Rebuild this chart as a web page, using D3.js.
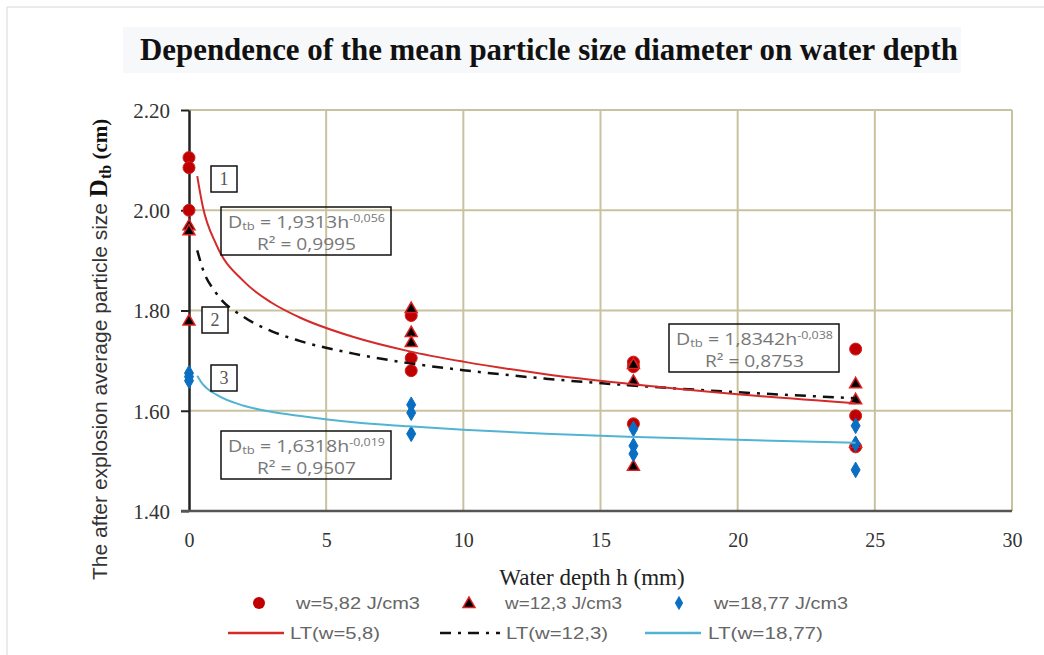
<html>
<script src="https://d3js.org/d3.v7.min.js"></script>
<style>
body {margin:0; background:#fff;}
</style>
<body>
<svg width=1044 height=655></svg>
<script>
// water depth ticks and size ticks
var xTicks = [0,5,10,15,20,25,30];
var yTicks = [1.40,1.60,1.80,2.00,2.20];

// measured points (three shots per depth)
var depthH = [0,0,0, 8.1,8.1,8.1, 16.2,16.2,16.2, 24.3,24.3,24.3];
var sizeW582 = [2.105,2.085,2.00, 1.79,1.705,1.68, 1.697,1.688,1.574, 1.723,1.59,1.528];
var sizeW123 = [1.97,1.96,1.78, 1.805,1.757,1.737, 1.693,1.66,1.49, 1.655,1.623,1.536];
var sizeW1877 = [1.675,1.668,1.66, 1.612,1.596,1.554, 1.564,1.53,1.514, 1.57,1.534,1.482];

// power trend lines
var trendH = [0.3,0.5,1,2,3,4,6,8,10,13,16,20,24.3];
var trendW582 = [2.068,2.008,1.931,1.858,1.816,1.787,1.747,1.719,1.698,1.673,1.654,1.633,1.615];
var trendW123 = [1.920,1.883,1.834,1.787,1.759,1.740,1.714,1.695,1.681,1.664,1.651,1.637,1.625];
var trendW1877 = [1.670,1.653,1.632,1.610,1.598,1.590,1.577,1.569,1.562,1.554,1.548,1.542,1.536];

var svg = d3.select("svg");
var xs = d3.scaleLinear().domain([0,30]).range([189,1012]);
var ys = d3.scaleLinear().domain([1.4,2.2]).range([511,110]);

// outer frame lines
svg.append("line").attr("x1",7).attr("x2",1044).attr("y1",7).attr("y2",7).style("stroke","#d8d8d8");
svg.append("line").attr("x1",7).attr("x2",7).attr("y1",7).attr("y2",655).style("stroke","#d8d8d8");

// title
svg.append("rect").attr("x",123).attr("y",27).attr("width",838).attr("height",46).style("fill","#f7f8f9");
svg.append("text").attr("x",140).attr("y",60)
   .attr("textLength",818).attr("lengthAdjust","spacingAndGlyphs")
   .style("font-family","Liberation Serif").style("font-weight","bold").style("font-size","32px").style("fill","#111")
   .text("Dependence of the mean particle  size diameter on water depth");

// grid
var grid = svg.append("g");
grid.selectAll(".gy").data(yTicks.slice(1)).enter().append("line")
   .attr("x1",xs(0)).attr("x2",xs(30)).attr("y1",function(d){return ys(d);}).attr("y2",function(d){return ys(d);})
   .style("stroke","#c9c29f").style("stroke-width",2);
grid.selectAll(".gx").data(xTicks.slice(1)).enter().append("line")
   .attr("x1",function(d){return xs(d);}).attr("x2",function(d){return xs(d);}).attr("y1",ys(1.4)).attr("y2",ys(2.2))
   .style("stroke","#c9c29f").style("stroke-width",2);

// axes
var yAxis = svg.append("g").attr("transform","translate("+xs(0)+",0)")
   .call(d3.axisLeft(ys).tickValues(yTicks).tickFormat(d3.format(".2f")).tickSize(8).tickSizeOuter(0));
yAxis.select(".domain").style("stroke","#222").style("stroke-width",2.5);
yAxis.selectAll(".tick line").style("stroke","#222").style("stroke-width",2);
yAxis.selectAll("text").attr("x",-19).attr("dy","0.35em")
   .style("font-family","Liberation Serif").style("font-size","21px").style("fill","#333");

var xAxis = svg.append("g").attr("transform","translate(0,"+ys(1.4)+")")
   .call(d3.axisBottom(xs).tickValues(xTicks).tickSize(0).tickSizeOuter(0));
xAxis.select(".domain").attr("d","M181,0H1012").style("stroke","#555").style("stroke-width",2.5);
xAxis.selectAll("text").attr("y",22)
   .style("font-family","Liberation Serif").style("font-size","20px").style("fill","#333");

// axis titles
svg.append("text").attr("x",592).attr("y",585).style("text-anchor","middle")
   .style("font-family","Liberation Serif").style("font-size","23px").style("fill","#222")
   .text("Water depth h (mm)");

var yl = svg.append("text").attr("transform","translate(107,580) rotate(-90)")
   .style("font-family","Liberation Sans").style("font-size","21px").style("fill","#333");
yl.append("tspan").text("The after explosion average particle size ");
yl.append("tspan").style("font-family","Liberation Serif").style("font-weight","bold").style("font-size","25px").style("fill","#111").text("D");
yl.append("tspan").attr("dy",4).style("font-family","Liberation Serif").style("font-weight","bold").style("font-size","16px").style("fill","#111").text("tb");
yl.append("tspan").attr("dy",-4).style("font-family","Liberation Serif").style("font-weight","bold").style("font-size","21px").style("fill","#111").text(" (cm)");

// markers
var pts = svg.append("g");
function pairs(v){ return v.map(function(d,i){return [depthH[i], d];}); }
pts.selectAll(".c").data(pairs(sizeW582)).enter().append("circle")
   .attr("cx",function(d){return xs(d[0]);}).attr("cy",function(d){return ys(d[1]);}).attr("r",6)
   .style("fill","#c00000").style("stroke","#d02020").style("stroke-width",1);
pts.selectAll(".t").data(pairs(sizeW123)).enter().append("path")
   .attr("d",d3.symbol().type(d3.symbolTriangle).size(62))
   .attr("transform",function(d){return "translate("+xs(d[0])+","+(ys(d[1])+1)+")";})
   .style("fill","#000").style("stroke","#e02020").style("stroke-width",1.5);
pts.selectAll(".dm").data(pairs(sizeW1877)).enter().append("path")
   .attr("d",d3.symbol().type(d3.symbolDiamond).size(70))
   .attr("transform",function(d){return "translate("+xs(d[0])+","+ys(d[1])+")";})
   .style("fill","#0a6fc2").style("stroke","#0a6fc2").style("stroke-width",1);

// trend lines
var line = d3.line().x(function(d){return xs(d[0]);}).y(function(d){return ys(d[1]);}).curve(d3.curveMonotoneX);
function tr(v){ return v.map(function(d,i){return [trendH[i], d];}); }
svg.append("path").datum(tr(trendW1877)).attr("d",line).style("fill","none").style("stroke","#52b4d2").style("stroke-width",2);
svg.append("path").datum(tr(trendW123)).attr("d",line).style("fill","none").style("stroke","#111").style("stroke-width",2.5).style("stroke-dasharray","11,7,3,7");
svg.append("path").datum(tr(trendW582)).attr("d",line).style("fill","none").style("stroke","#d42a2a").style("stroke-width",2);

// numbered boxes
var nums = [["1",211,166],["2",202,307],["3",211,365]];
nums.forEach(function(n){
  svg.append("rect").attr("x",n[1]).attr("y",n[2]).attr("width",26).attr("height",26)
     .style("fill","#fff").style("stroke","#111").style("stroke-width",1.5);
  svg.append("text").attr("x",n[1]+13).attr("y",n[2]+19).style("text-anchor","middle")
     .style("font-family","Liberation Serif").style("font-size","18px").style("fill","#555").text(n[0]);
});

// equation boxes
var eqs = [["1,9313h","-0,056","0,9995",221,207],["1,8342h","-0,038","0,8753",669,324],["1,6318h","-0,019","0,9507",221,431]];
eqs.forEach(function(e){
  var bx = e[3], by = e[4];
  svg.append("rect").attr("x",bx).attr("y",by).attr("width",170).attr("height",48)
     .style("fill","none").style("stroke","#111").style("stroke-width",1.5);
  var t = svg.append("text").attr("x",bx+7).attr("y",by+21)
     .attr("textLength",157).attr("lengthAdjust","spacingAndGlyphs")
     .style("font-family","Open Sans").style("font-size","16.5px").style("fill","#777");
  t.append("tspan").text("D");
  t.append("tspan").attr("dy",2).style("font-size","11px").text("tb");
  t.append("tspan").attr("dy",-2).text(" = "+e[0]);
  t.append("tspan").attr("dy",-6).style("font-size","10.5px").text(e[1]);
  svg.append("text").attr("x",bx+36).attr("y",by+43)
     .attr("textLength",99).attr("lengthAdjust","spacingAndGlyphs")
     .style("font-family","Open Sans").style("font-size","16.5px").style("fill","#777").text("R\u00b2 = "+e[2]);
});

// legend
var lg = svg.append("g").style("font-family","Liberation Sans").style("font-size","17px").style("fill","#666");
function ltext(x,y,w,s){ lg.append("text").attr("x",x).attr("y",y).attr("textLength",w).attr("lengthAdjust","spacingAndGlyphs").text(s); }
lg.append("circle").attr("cx",259).attr("cy",603).attr("r",6).style("fill","#c00000");
ltext(296,609,124,"w=5,82 J/cm3");
lg.append("path").attr("d",d3.symbol().type(d3.symbolTriangle).size(62)).attr("transform","translate(469,604)")
   .style("fill","#000").style("stroke","#e02020").style("stroke-width",1.5);
ltext(505,609,117,"w=12,3 J/cm3");
lg.append("path").attr("d",d3.symbol().type(d3.symbolDiamond).size(60)).attr("transform","translate(679,603)").style("fill","#0a6fc2");
ltext(714,609,134,"w=18,77 J/cm3");

lg.append("line").attr("x1",228).attr("x2",284).attr("y1",633).attr("y2",633).style("stroke","#d42a2a").style("stroke-width",2.5);
ltext(290,639,90,"LT(w=5,8)");
lg.append("line").attr("x1",440).attr("x2",500).attr("y1",633).attr("y2",633).style("stroke","#111").style("stroke-width",2.5).style("stroke-dasharray","11,7,3,7");
ltext(506,639,102,"LT(w=12,3)");
lg.append("line").attr("x1",645).attr("x2",701).attr("y1",633).attr("y2",633).style("stroke","#52b4d2").style("stroke-width",2.5);
ltext(708,639,115,"LT(w=18,77)");
</script>
</body>
</html>
